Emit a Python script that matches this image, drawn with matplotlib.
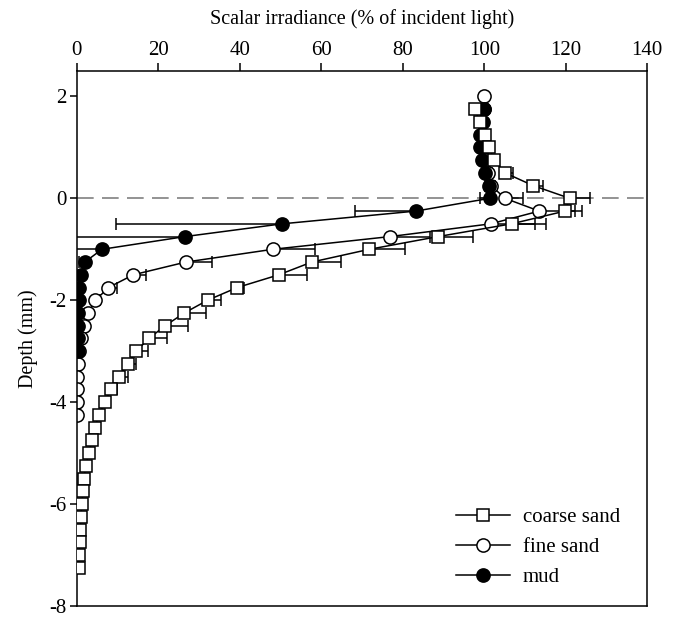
import numpy as np
import matplotlib
matplotlib.use('Agg')
import matplotlib.pyplot as plt

plt.rcParams['font.family'] = ['Liberation Serif', 'DejaVu Serif']
plt.rcParams['axes.unicode_minus'] = False

# depth (mm) and scalar irradiance (% of incident light)
coarse_depth = [1.75, 1.5, 1.25, 1.0, 0.75, 0.5, 0.25, 0.0, -0.25, -0.5, -0.75, -1.0,
                -1.25, -1.5, -1.75, -2.0, -2.25, -2.5, -2.75, -3.0, -3.25, -3.5, -3.75,
                -4.0, -4.25, -4.5, -4.75, -5.0, -5.25, -5.5, -5.75, -6.0, -6.25, -6.5,
                -6.75, -7.0, -7.25]
coarse_val = [97.7, 98.9, 100.1, 101.1, 102.5, 105.1, 112.0, 121.0, 119.8, 106.7, 88.7, 71.8,
              57.7, 49.6, 39.4, 32.1, 26.4, 21.7, 17.7, 14.6, 12.5, 10.3, 8.3,
              7.0, 5.4, 4.5, 3.7, 3.0, 2.2, 1.8, 1.5, 1.3, 1.0, 0.9,
              0.7, 0.6, 0.5]
coarse_err = [0.5, 0.5, 0.8, 1.0, 1.2, 2.0, 2.3, 4.9, 4.1, 8.4, 8.5, 8.7,
              7.2, 7.0, 1.6, 3.4, 5.3, 5.5, 4.4, 3.0, 2.1, 2.3, 1.5,
              1.2, 1.0, 0.8, 0.7, 0.6, 0.5, 0.4, 0.3, 0.3, 0.3, 0.2,
              0.2, 0.2, 0.2]

fine_depth = [2.0, 1.75, 1.5, 1.25, 1.0, 0.75, 0.5, 0.25, 0.0, -0.25, -0.5, -0.75, -1.0,
              -1.25, -1.5, -1.75, -2.0, -2.25, -2.5, -2.75, -3.0, -3.25, -3.5, -3.75,
              -4.0, -4.25]
fine_val = [100.0, 100.0, 99.5, 99.5, 100.0, 100.5, 101.0, 101.7, 105.1, 113.5, 101.6, 76.9, 48.1,
            26.8, 13.9, 7.8, 4.6, 2.8, 1.7, 1.1, 0.6, 0.3, 0.2, 0.2,
            0.1, 0.1]
fine_err = [0.3, 0.3, 0.3, 0.4, 0.5, 0.5, 0.8, 1.0, 4.3, 8.7, 10.8, 9.8, 10.4,
            6.3, 3.0, 2.1, 1.2, 0.6, 0.4, 0.3, 0.2, 0.1, 0.1, 0.1,
            0.1, 0.1]

mud_depth = [1.75, 1.5, 1.25, 1.0, 0.75, 0.5, 0.25, 0.0, -0.25, -0.5, -0.75, -1.0,
             -1.25, -1.5, -1.75, -2.0, -2.25, -2.5, -2.75, -3.0]
mud_val = [99.9, 99.7, 98.9, 98.9, 99.4, 100.2, 101.2, 101.3, 83.2, 50.4, 26.6, 6.2,
           2.0, 1.1, 0.6, 0.5, 0.4, 0.4, 0.3, 0.3]
mud_err = [0.5, 0.5, 0.5, 0.5, 0.5, 0.8, 1.0, 2.4, 14.8, 40.8, 30.0, 8.0,
           1.5, 0.5, 0.3, 0.3, 0.2, 0.2, 0.2, 0.2]

fig = plt.figure(figsize=(6.75, 6.17), dpi=100)
ax = fig.add_axes([0.1136, 0.0178, 0.8453, 0.8672])

ax.axhline(0, color='#808080', lw=1.2, ls=(0, (10, 5)), zorder=1)

def draw(depth, val, err, marker, face, ms, z, left=False):
    depth = np.array(depth)
    val = np.array(val)
    err = np.array(err)
    # one-sided bars: sands to the right, mud to the left
    xerr = [err, np.zeros_like(err)] if left else [np.zeros_like(err), err]
    ax.errorbar(val, depth, xerr=xerr, fmt='none', ecolor='k', elinewidth=1.1,
                capsize=4.3, capthick=1.1, zorder=z)
    line, = ax.plot(val, depth, color='k', lw=1.1, marker=marker, ms=ms,
                    mfc=face, mec='k', mew=1.1, zorder=z + 0.5)
    return line

h_fine = draw(fine_depth, fine_val, fine_err, 'o', 'white', 9.5, 2)
h_mud = draw(mud_depth, mud_val, mud_err, 'o', 'black', 9.5, 4, left=True)
h_coarse = draw(coarse_depth, coarse_val, coarse_err, 's', 'white', 8.5, 6)

ax.set_xlim(0, 140)
ax.set_ylim(-8, 2.5)
ax.set_xticks(np.arange(0, 141, 20))
ax.set_yticks(np.arange(-8, 3, 2))
ax.xaxis.tick_top()
ax.xaxis.set_label_position('top')
ax.tick_params(axis='x', direction='out', length=6, width=1.1, labelsize=15, pad=2)
ax.tick_params(axis='y', direction='out', length=5, width=1.1, labelsize=15, pad=2)
for s in ax.spines.values():
    s.set_linewidth(1.1)
ax.set_xlabel('Scalar irradiance (% of incident light)', fontsize=14.5, labelpad=12)
ax.set_ylabel('Depth (mm)', fontsize=14.5, labelpad=8)

ax.legend([h_coarse, h_fine, h_mud], ['coarse sand', 'fine sand', 'mud'],
          loc='lower right', bbox_to_anchor=(0.985, 0.0), frameon=False,
          fontsize=15, handlelength=2.6, labelspacing=0.5, handletextpad=0.6)

fig.savefig('out.png', dpi=100)
